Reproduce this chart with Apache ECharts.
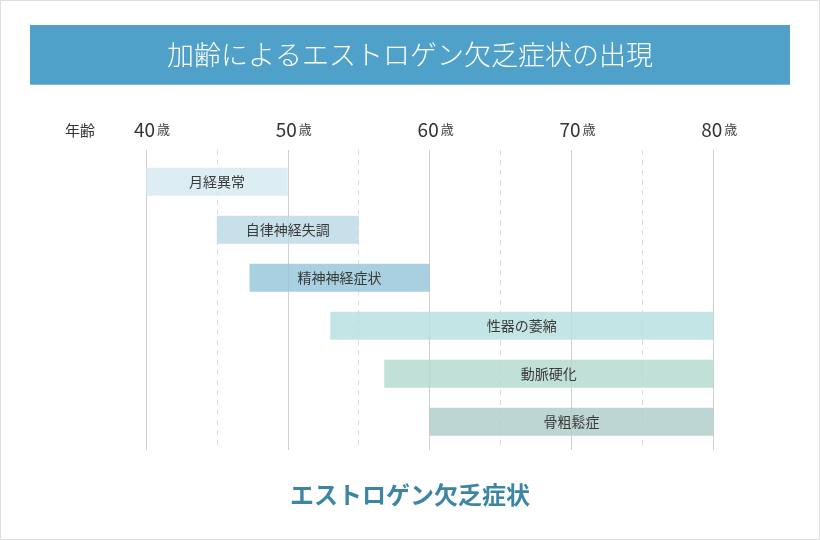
<!DOCTYPE html>
<html>
<head>
<meta charset="utf-8">
<script src="https://cdn.jsdelivr.net/npm/echarts@6/dist/echarts.min.js"></script>
<style>
  html, body { margin: 0; padding: 0; background: #fff; }
  #chart { width: 820px; height: 540px; }
</style>
</head>
<body>
<div id="chart"></div>
<script>
// 症状ごとの出現年齢（開始〜終了）
var symptoms = ['月経異常', '自律神経失調', '精神神経症状', '性器の萎縮', '動脈硬化', '骨粗鬆症'];
var startAge = [40, 45, 47.3, 53, 56.8, 60];
var endAge   = [50, 55, 60, 80, 80, 80];
var ageTicks = [40, 50, 60, 70, 80];

var barColors = [
  'rgba(212,232,241,0.8)',
  'rgba(186,216,227,0.8)',
  'rgba(146,196,217,0.8)',
  'rgba(179,222,222,0.8)',
  'rgba(176,216,206,0.8)',
  'rgba(174,204,200,0.8)'
];

var font = 'Noto Sans CJK JP';

var rows = symptoms.map(function (name, i) {
  return [i, startAge[i], endAge[i], name];
});

var chart = echarts.init(document.getElementById('chart'));
chart.setOption({
  animation: false,
  backgroundColor: '#fff',
  grid: { left: 146, right: 106.7, top: 150, bottom: 90 },
  xAxis: {
    type: 'value',
    position: 'top',
    min: 40, max: 80, interval: 10,
    axisLine: { show: false },
    axisTick: { show: false },
    axisLabel: {
      margin: 11,
      formatter: function (v) {
        return ageTicks.indexOf(v) >= 0 ? '{age|' + v + '}{unit|歳}' : '';
      },
      rich: {
        age: { fontSize: 19, color: '#333', fontFamily: font, padding: [0, 2, 0, 12] },
        unit: { fontSize: 13, color: '#444', fontFamily: font, padding: [0, 0, 1, 0] }
      }
    },
    splitLine: { show: true, lineStyle: { color: '#cfcfcf', width: 1 } },
    minorTick: { show: false, splitNumber: 2 },
    minorSplitLine: { show: true, lineStyle: { color: '#dcdcdc', type: [5, 5], width: 1 } }
  },
  yAxis: {
    type: 'value',
    inverse: true,
    min: -0.66, max: 5.59,
    show: false
  },
  graphic: [
    { type: 'rect', shape: { x: 0.5, y: 0.5, width: 819, height: 539 },
      style: { fill: 'none', stroke: '#dedede', lineWidth: 1 }, z: 0 },
    { type: 'rect', shape: { x: 30, y: 25, width: 760, height: 60 },
      style: { fill: '#50a1c9' } },
    { type: 'rect', shape: { x: 30, y: 84, width: 760, height: 1 },
      style: { fill: '#7fbad8' } },
    { type: 'text', x: 410, y: 55,
      style: { text: '加齢によるエストロゲン欠乏症状の出現', fill: '#fff',
        fontFamily: font, fontSize: 27, fontWeight: 300,
        align: 'center', verticalAlign: 'middle' } },
    { type: 'text', x: 80, y: 130,
      style: { text: '年齢', fill: '#333', fontFamily: font, fontSize: 15,
        align: 'center', verticalAlign: 'middle' } },
    { type: 'text', x: 410, y: 495,
      style: { text: 'エストロゲン欠乏症状', fill: '#3d86a3',
        fontFamily: font, fontSize: 24, fontWeight: 'bold',
        align: 'center', verticalAlign: 'middle' } }
  ],
  series: [{
    type: 'custom',
    data: rows,
    encode: { x: [1, 2], y: 0 },
    renderItem: function (params, api) {
      var i = api.value(0);
      var p0 = api.coord([api.value(1), i]);
      var p1 = api.coord([api.value(2), i]);
      var h = 28;
      var x0 = p0[0], x1 = p1[0];
      return {
        type: 'group',
        children: [
          { type: 'rect', shape: { x: x0, y: p0[1] - h / 2, width: x1 - x0, height: h },
            style: { fill: barColors[i] } },
          { type: 'text', x: (x0 + x1) / 2, y: p0[1],
            style: { text: symptoms[i], fill: '#3a3a3a', fontFamily: font, fontSize: 14,
              align: 'center', verticalAlign: 'middle' } }
        ]
      };
    }
  }]
});
</script>
</body>
</html>
